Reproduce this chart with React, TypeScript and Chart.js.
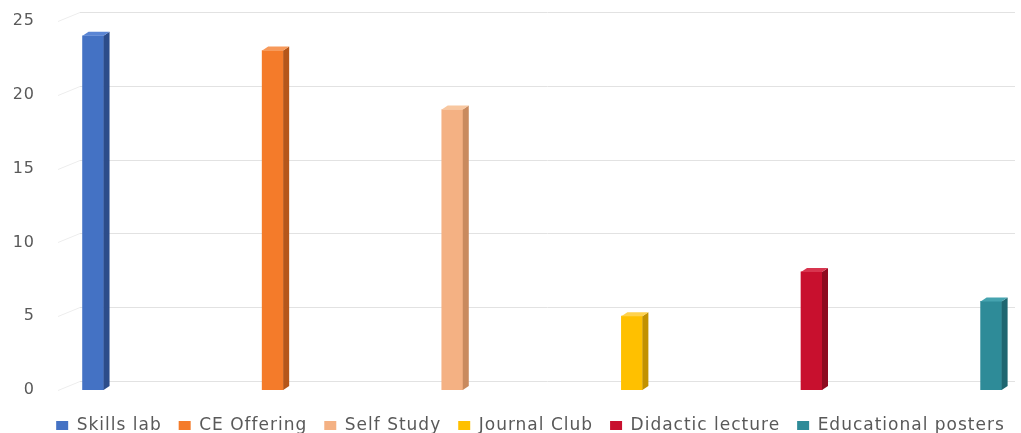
import React, { useEffect, useRef } from "react";
import { Chart, registerables } from "chart.js";

Chart.register(...registerables);

const seriesNames = ["Skills lab", "CE Offering", "Self Study", "Journal Club", "Didactic lecture", "Educational posters"];
const seriesValues = [24, 23, 19, 5, 8, 6];
const frontColors = ["#4472C4", "#F47B2A", "#F4B183", "#FFC000", "#C8102E", "#2E8B98"];
const sideColors = ["#2C4C8A", "#B5561A", "#C98A5E", "#C29100", "#8E0B20", "#1F6670"];
const topColors = ["#5A85D4", "#F7995A", "#F8C7A0", "#FFD24D", "#D8354F", "#45A3AF"];
const yTicks = [0, 5, 10, 15, 20, 25];

const spacingPlugin = {
  id: "letterSpacing",
  beforeLayout(chart: any) {
    chart.ctx.letterSpacing = "1px";
  },
  afterLayout(chart: any) {
    if (chart.legend) {
      chart.legend.left += 19;
      chart.legend.right += 19;
      chart.legend.top += 3;
      chart.legend.bottom += 3;
    }
  },
  beforeDraw(chart: any) {
    chart.ctx.letterSpacing = "1px";
  },
};

const wallGridPlugin = {
  id: "wallGrid",
  beforeDatasetsDraw(chart: any) {
    const ctx = chart.ctx;
    const ys = chart.scales.y;
    const { left, right } = chart.chartArea;
    ctx.save();
    ctx.lineWidth = 1;
    yTicks.forEach((v) => {
      const y = Math.round(ys.getPixelForValue(v)) + 0.5;
      ctx.strokeStyle = "#EDEDED";
      ctx.beginPath();
      ctx.moveTo(left - 2, y);
      ctx.lineTo(left + 20, y - 9);
      ctx.stroke();
      ctx.strokeStyle = "#E2E2E2";
      ctx.beginPath();
      ctx.moveTo(left + 20, y - 9);
      ctx.lineTo(right, y - 9);
      ctx.stroke();
    });
    ctx.restore();
  },
};

const depthPlugin = {
  id: "depth3d",
  afterDatasetsDraw(chart: any) {
    const ctx = chart.ctx;
    const dx = 6;
    const dy = 4;
    chart.data.datasets.forEach((ds: any, i: number) => {
      const meta = chart.getDatasetMeta(i);
      meta.data.forEach((bar: any) => {
        const p = bar.getProps(["x", "y", "base", "width"], true);
        const left = p.x - p.width / 2;
        const right = p.x + p.width / 2;
        const top = p.y;
        const base = p.base;
        ctx.save();
        ctx.fillStyle = sideColors[i];
        ctx.beginPath();
        ctx.moveTo(right, top);
        ctx.lineTo(right + dx, top - dy);
        ctx.lineTo(right + dx, base - dy);
        ctx.lineTo(right, base);
        ctx.closePath();
        ctx.fill();
        ctx.fillStyle = topColors[i];
        ctx.beginPath();
        ctx.moveTo(left, top);
        ctx.lineTo(left + dx, top - dy);
        ctx.lineTo(right + dx, top - dy);
        ctx.lineTo(right, top);
        ctx.closePath();
        ctx.fill();
        ctx.restore();
      });
    });
  },
};

export default function App() {
  const ref = useRef<HTMLCanvasElement>(null);

  useEffect(() => {
    if (!ref.current) return;
    const chart = new Chart(ref.current, {
      type: "bar",
      data: {
        datasets: seriesNames.map((name, i) => ({
          label: name,
          data: [{ x: i, y: seriesValues[i] }],
          backgroundColor: frontColors[i],
          borderWidth: 0,
          grouped: false,
          barThickness: 21,
        })),
      },
      options: {
        animation: false,
        responsive: true,
        maintainAspectRatio: false,
        layout: { padding: { left: 8, right: 6, top: 21, bottom: 0 } },
        scales: {
          x: {
            type: "linear",
            offset: false,
            min: -0.184,
            max: 5.133,
            afterFit: (scale: any) => {
              scale.height = 7;
            },
            border: { display: false },
            grid: { display: false, drawTicks: false },
            ticks: { display: false },
          },
          y: {
            min: 0,
            max: 25,
            afterFit: (scale: any) => {
              scale.width = 52;
              scale.paddingTop = 0;
              scale.paddingBottom = 0;
            },
            afterBuildTicks: (scale: any) => {
              scale.ticks = yTicks.map((v) => ({ value: v }));
            },
            border: { display: false },
            grid: { display: false, drawTicks: false },
            ticks: {
              padding: 25,
              color: "#595959",
              font: { family: "'DejaVu Sans', sans-serif", size: 16 },
            },
          },
        },
        plugins: {
          legend: {
            position: "bottom",
            maxHeight: 36,
            labels: {
              boxWidth: 12,
              boxHeight: 9,
              padding: 17,
              color: "#595959",
              font: { family: "'DejaVu Sans', sans-serif", size: 17 },
            },
          },
          tooltip: { enabled: false },
        },
      },
      plugins: [spacingPlugin, wallGridPlugin, depthPlugin],
    });
    return () => chart.destroy();
  }, []);

  return (
    <div style={{ position: "fixed", left: 0, top: 0, width: 1021, height: 433, background: "#fff" }}>
      <canvas ref={ref} />
    </div>
  );
}
